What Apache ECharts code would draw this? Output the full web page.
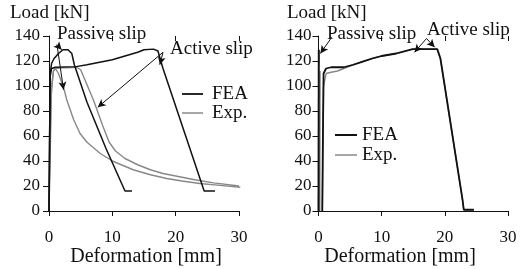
<!DOCTYPE html>
<html><head><meta charset="utf-8">
<script src="https://cdn.jsdelivr.net/npm/echarts@6/dist/echarts.min.js"></script>
<style>html,body{margin:0;padding:0;background:#fff}#c{width:524px;height:269px}</style>
</head><body><div id="c"></div>
<script>
// ---- data (Deformation [mm], Load [kN]) ----
const xTicks = [0, 10, 20, 30];
const yTicks = [0, 20, 40, 60, 80, 100, 120, 140];

// Left panel
const leftFeaPassive = [[0,0],[0.1,60],[0.2,110],[0.4,118],[0.8,122],[1.5,126],[2.2,129],[3,129],[3.6,126],[4.0,117],[6.0,87],[9.0,50],[12,16],[13.1,16]];
const leftFeaActive = [[0,0],[0.1,60],[0.2,108],[0.4,114],[1,115],[4.3,115.5],[6,117],[8,119],[10,121],[12,124],[14,127],[15,129],[16.5,129.5],[17.2,128],[17.6,121],[18,114],[24.5,16],[26.2,16]];
const leftExpPassive = [[0,0],[0.2,50],[0.4,100],[0.7,112],[1.0,114],[1.5,110],[2.4,97],[2.8,89],[3.9,73],[4.9,62],[6,55],[8.1,46],[10,40],[13.3,33],[16,29],[18.6,26],[21,24],[23.8,22],[27,20.5],[30.2,19]];
const leftExpActive = [[0,0],[0.3,90],[0.7,112],[1,114],[2,114.5],[3,114.5],[4.3,115],[5.0,113],[5.5,107],[7.0,89],[8.5,68],[9.5,55],[10.5,48],[12,42],[14,37],[16,33],[18,30],[20,28],[23,25],[26,22.5],[30,20]];

// Right panel
const rightFeaPassive = [[0,0],[0.05,129]];
const rightFeaActive = [[0.6,0],[0.7,60],[0.8,110],[1.2,114],[2,115],[4,115],[5.5,117],[7,119.5],[8.5,122],[10,124],[12.3,126],[14.9,129.5],[18.8,129.5],[19.3,122],[22.8,9],[23,1],[24.6,1]];
const rightExpPassive = [[0.2,0],[0.25,112]];
const rightExpActive = [[0.6,0],[0.8,100],[1.2,110],[2,111],[3,112],[4,114],[5.5,117],[7,119.5],[8.5,122],[10,124],[12.3,126],[14.9,129.5],[18.8,129.5],[19.3,122],[22.8,9],[23,1],[24.6,1]];

// annotation arrows (data coords): [from, to]
const leftPassiveArrows = [[[1.26,133],[2.0,129]],[[1.26,133],[2.3,97]]];
const leftActiveArrows = [[[18.0,127],[17.5,117]],[[18.0,127],[7.7,83]]];
const rightPassiveArrows = [[[2.1,139],[0.3,126]]];
const rightActiveArrows = [[[17.1,138],[15.2,127]],[[17.1,138],[18.4,131]]];

const FONT = '"Liberation Serif", "Times New Roman", "DejaVu Serif", serif';
const BLACK = '#111';
const GRAY = '#888';

function arrows(list){
  return {
    silent: true, symbol: ['none','arrow'], symbolSize: [6,8],
    lineStyle: {color: BLACK, width: 1, type: 'solid'},
    label: {show: false}, animation: false,
    data: list.map(a => [{coord: a[0]}, {coord: a[1]}])
  };
}

const chart = echarts.init(document.getElementById('c'), null, {renderer: 'canvas'});

const grids = [
  {left: 49, top: 36, width: 190, height: 175},
  {left: 318.5, top: 36, width: 189.5, height: 175}
];

function xAx(gi, inside){
  return {
    gridIndex: gi, type: 'value', min: 0, max: 30, interval: 10,
    axisLine: {show: !inside, onZero: false, lineStyle: {color: BLACK, width: 1}},
    axisTick: {show: true, inside: inside, length: 5, lineStyle: {color: BLACK}},
    axisLabel: {show: !inside, fontFamily: FONT, fontSize: 17, color: BLACK, margin: 18,
      formatter: v => xTicks.includes(v) ? String(v) : ''},
    splitLine: {show: false}
  };
}
function yAx(gi, margin){
  return {
    gridIndex: gi, type: 'value', min: 0, max: 140, interval: 20,
    axisLine: {show: true, lineStyle: {color: BLACK, width: 1}},
    axisTick: {show: true, inside: false, length: 6, lineStyle: {color: BLACK}},
    axisLabel: {fontFamily: FONT, fontSize: 17, color: BLACK, margin: margin,
      formatter: v => yTicks.includes(v) ? String(v) : ''},
    splitLine: {show: false}
  };
}

function line(data, xi, yi, color, width, z, extra){
  const s = {type: 'line', data: data, xAxisIndex: xi, yAxisIndex: yi, showSymbol: false, symbol: 'none',
    lineStyle: {color: color, width: width}, z: z, animation: false, clip: false};
  if (extra) s.markLine = extra;
  return s;
}

const txt = (text, x, y, size, align) => ({type: 'text', x: x, y: y,
  style: {text: text, font: size + 'px ' + FONT, fill: BLACK, textAlign: align || 'left', textVerticalAlign: 'middle'}});
const seg = (x1, y1, x2, y2, color, w) => ({type: 'line', shape: {x1, y1, x2, y2}, style: {stroke: color, lineWidth: w}});

chart.setOption({
  backgroundColor: '#fff',
  animation: false,
  textStyle: {fontFamily: FONT},
  grid: grids,
  xAxis: [xAx(0,false), xAx(1,false), xAx(0,true), xAx(1,true)],
  yAxis: [yAx(0,9), yAx(1,7)],
  series: [
    line(leftExpPassive, 0, 0, GRAY, 1.4, 2),
    line(leftExpActive, 0, 0, GRAY, 1.4, 2),
    line(leftFeaPassive, 0, 0, BLACK, 1.5, 3, arrows(leftPassiveArrows)),
    line(leftFeaActive, 0, 0, BLACK, 1.5, 3, arrows(leftActiveArrows)),
    line(rightExpPassive, 1, 1, GRAY, 1.4, 2),
    line(rightExpActive, 1, 1, GRAY, 1.4, 2),
    line(rightFeaPassive, 1, 1, BLACK, 2, 3, arrows(rightPassiveArrows)),
    line(rightFeaActive, 1, 1, BLACK, 1.8, 3, arrows(rightActiveArrows))
  ],
  graphic: [
    txt('Load [kN]', 10, 13, 19),
    txt('Load [kN]', 287, 13, 19),
    txt('Passive slip', 57, 34, 19),
    txt('Active slip', 170, 49, 19),
    txt('Passive slip', 327, 34, 19),
    txt('Active slip', 427, 30, 19),
    txt('Deformation [mm]', 146, 257, 20, 'center'),
    txt('Deformation [mm]', 400, 257, 20, 'center'),
    seg(182, 94, 203, 94, BLACK, 1.8),
    seg(182, 113, 203, 113, GRAY, 1.5),
    txt('FEA', 212, 94, 19),
    txt('Exp.', 212, 113, 19),
    seg(335, 135, 357, 135, BLACK, 2),
    seg(335, 155, 357, 155, GRAY, 1.5),
    txt('FEA', 362, 135, 19),
    txt('Exp.', 362, 155, 19)
  ]
});
</script></body></html>
